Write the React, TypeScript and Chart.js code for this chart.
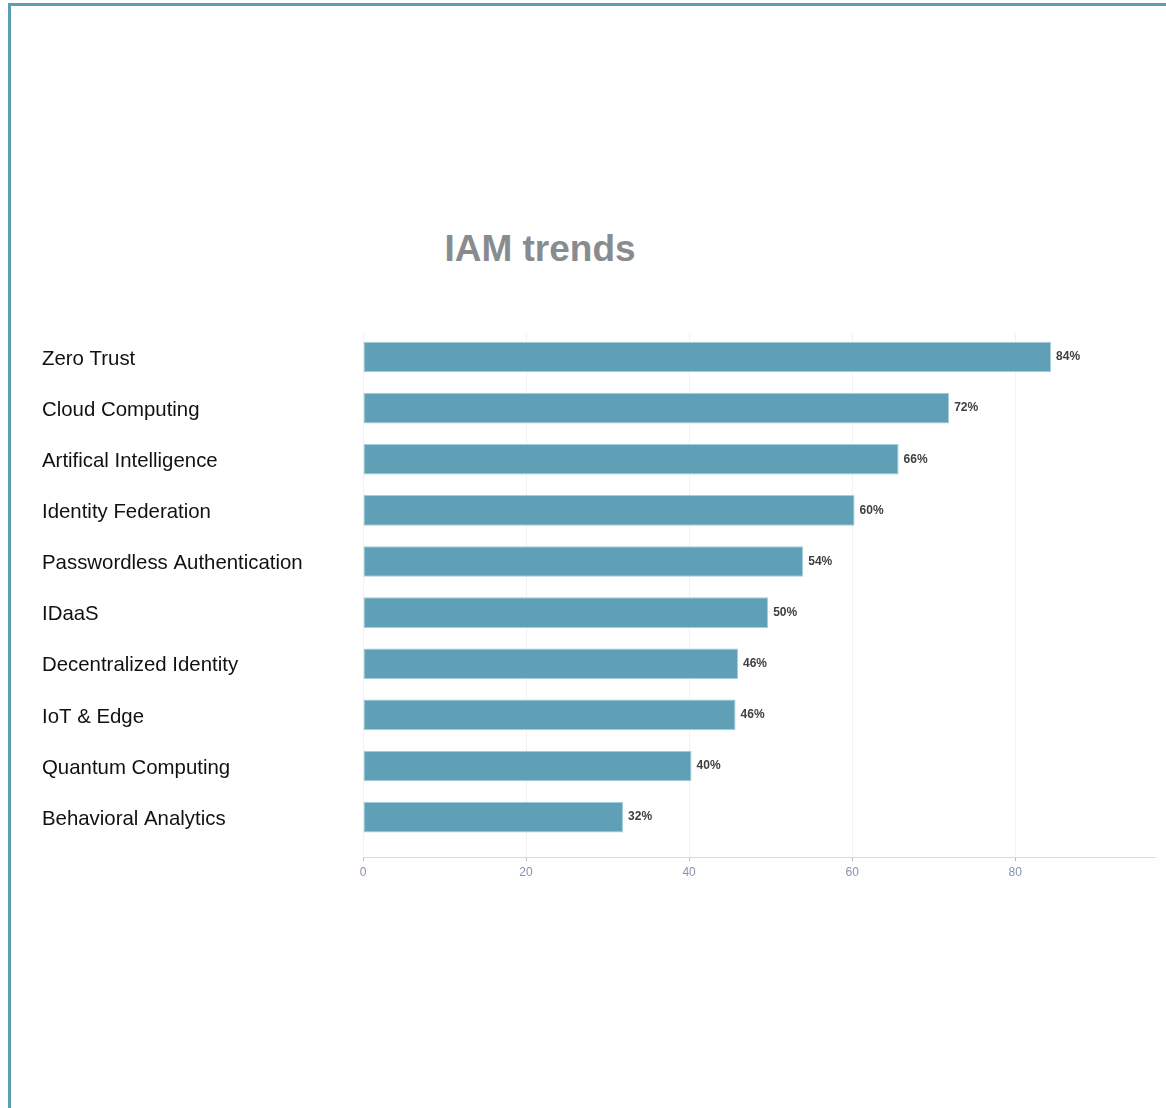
import React, { useEffect, useRef } from "react";
import { Chart, registerables } from "chart.js";

Chart.register(...registerables);

const chartTitle = "IAM trends";

const categories = [
  "Zero Trust",
  "Cloud Computing",
  "Artifical Intelligence",
  "Identity Federation",
  "Passwordless Authentication",
  "IDaaS",
  "Decentralized Identity",
  "IoT & Edge",
  "Quantum Computing",
  "Behavioral Analytics",
];

const values = [84.4, 71.9, 65.7, 60.3, 54.0, 49.7, 46.0, 45.7, 40.3, 31.9];

const xTickStep = 20;
const xMax = 97.15;

const valueLabelPlugin = {
  id: "valueLabels",
  afterDatasetsDraw(chart: any) {
    const ctx = chart.ctx;
    const meta = chart.getDatasetMeta(0);
    ctx.save();
    ctx.font = 'bold 12px "Liberation Sans", Arial, sans-serif';
    ctx.fillStyle = "#404040";
    ctx.textBaseline = "middle";
    ctx.textAlign = "left";
    meta.data.forEach((bar: any, i: number) => {
      ctx.fillText(`${Math.round(values[i])}%`, bar.x + 5, bar.y);
    });
    ctx.restore();
  },
};

export default function App() {
  const canvasRef = useRef<HTMLCanvasElement | null>(null);

  useEffect(() => {
    if (!canvasRef.current) return;
    const chart = new Chart(canvasRef.current, {
      type: "bar",
      data: {
        datasets: [
          {
            data: values.map((v, i) => ({ x: v, y: i })),
            backgroundColor: "#5fa0b7",
            borderColor: "#a6cedb",
            borderWidth: 1,
            borderSkipped: false,
            barPercentage: 0.6,
            categoryPercentage: 1,
          },
        ],
      },
      options: {
        indexAxis: "y",
        animation: false,
        responsive: true,
        maintainAspectRatio: false,
        layout: { padding: { left: 42, right: 11, top: 333, bottom: 211 } },
        plugins: {
          legend: { display: false },
          tooltip: { enabled: false },
          title: { display: false },
        },
        scales: {
          x: {
            type: "linear",
            position: "bottom",
            min: 0,
            max: xMax,
            ticks: {
              stepSize: xTickStep,
              includeBounds: false,
              color: "#8593ad",
              font: { family: '"Liberation Sans", Arial, sans-serif', size: 12 },
              padding: 4,
            },
            grid: {
              color: "#f2f2f2",
              tickColor: "#b5bfd0",
              tickLength: 4,
              drawTicks: true,
            },
            border: { color: "#dadada", width: 1 },
            afterFit: (s: any) => {
              s.height = 40;
            },
          },
          y: {
            type: "linear",
            reverse: true,
            offset: false,
            bounds: "data",
            min: -0.47,
            max: 9.78,
            grid: { display: false, offset: false },
            border: { display: false },
            afterBuildTicks: (s: any) => {
              s.ticks = categories.map((_, i) => ({ value: i }));
            },
            afterFit: (s: any) => {
              s.width = 321;
            },
            ticks: {
              crossAlign: "far",
              color: "#111111",
              padding: 0,
              labelOffset: 2,
              autoSkip: false,
              font: { family: '"Liberation Sans", Arial, sans-serif', size: 20.4 },
              callback: (v: any) => categories[v as number] ?? "",
            },
          },
        },
      } as any,
      plugins: [valueLabelPlugin],
    });
    return () => chart.destroy();
  }, []);

  return (
    <div
      style={{
        position: "absolute",
        left: 0,
        top: 0,
        width: 1166,
        height: 1108,
        overflow: "hidden",
        background: "#ffffff",
      }}
    >
      <div
        style={{
          position: "absolute",
          left: 8,
          top: 3,
          width: 2000,
          height: 2000,
          borderTop: "3px solid #5b9db3",
          borderLeft: "3px solid #5b9db3",
        }}
      />
      <div
        style={{
          position: "absolute",
          left: 0,
          top: 230,
          width: 1080,
          textAlign: "center",
          fontFamily: '"Liberation Sans", Arial, sans-serif',
          fontWeight: "bold",
          fontSize: 37,
          lineHeight: "37px",
          color: "#898c8e",
        }}
      >
        {chartTitle}
      </div>
      <div style={{ position: "absolute", left: 0, top: 0, width: 1166, height: 1108 }}>
        <canvas ref={canvasRef} />
      </div>
    </div>
  );
}
